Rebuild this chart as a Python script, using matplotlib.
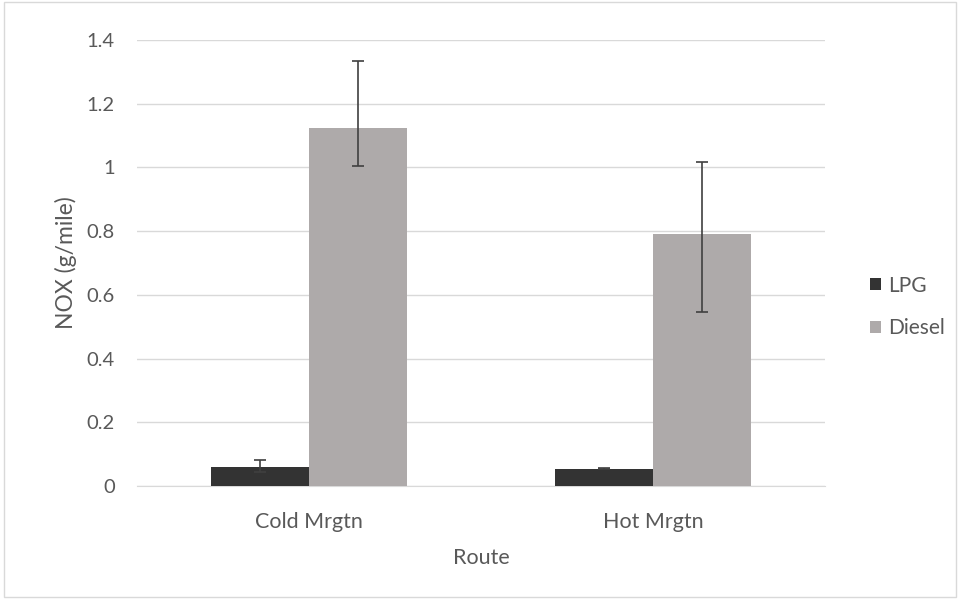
import numpy as np
import matplotlib.pyplot as plt
from matplotlib.patches import Rectangle

routes = ['Cold Mrgtn', 'Hot Mrgtn']
lpg = [0.060, 0.054]
lpg_err_lo = [0.016, 0.002]
lpg_err_hi = [0.022, 0.003]
diesel = [1.124, 0.790]
diesel_err_lo = [0.120, 0.243]
diesel_err_hi = [0.210, 0.227]
yticks = [0, 0.2, 0.4, 0.6, 0.8, 1.0, 1.2, 1.4]
ytick_labels = ['0', '0.2', '0.4', '0.6', '0.8', '1', '1.2', '1.4']

plt.rcParams['font.family'] = ['Lato', 'DejaVu Sans']
txt = '#595959'

fig = plt.figure(figsize=(9.6, 5.99), dpi=100)
ax = fig.add_axes([137 / 960, 113 / 599, 688 / 960, 446 / 599])

x = np.arange(len(routes))
w = 0.285
ax.bar(x - w / 2, lpg, w, color='#333333', label='LPG', zorder=3,
       yerr=[lpg_err_lo, lpg_err_hi], error_kw=dict(ecolor='#404040', lw=1.2, capsize=4, capthick=1.2))
ax.bar(x + w / 2, diesel, w, color='#aeaaaa', label='Diesel', zorder=3,
       yerr=[diesel_err_lo, diesel_err_hi], error_kw=dict(ecolor='#404040', lw=1.2, capsize=4, capthick=1.2))

ax.set_xlim(-0.5, 1.5)
ax.set_ylim(0, 1.4)
ax.set_yticks(yticks)
ax.set_yticklabels(ytick_labels)
ax.set_xticks(x)
ax.set_xticklabels(routes)
ax.yaxis.grid(True, color='#d9d9d9', lw=1, zorder=0)
for s in ['top', 'right', 'left']:
    ax.spines[s].set_visible(False)
ax.spines['bottom'].set_color('#d9d9d9')
ax.tick_params(axis='both', length=0, colors=txt)
ax.tick_params(axis='y', pad=16, labelsize=14.5)
ax.tick_params(axis='x', pad=19, labelsize=15.5)
ax.set_ylabel('NOX (g/mile)', fontsize=16.5, color=txt, labelpad=7)
ax.set_xlabel('Route', fontsize=15.5, color=txt, labelpad=11)

ax.legend(loc='center left', bbox_to_anchor=(862 / 960, (599 - 307) / 599),
          bbox_transform=fig.transFigure, frameon=False, borderaxespad=0,
          fontsize=15, labelcolor=txt, handlelength=0.5, handleheight=0.5,
          handletextpad=0.35, labelspacing=1.1)

fig.patches.append(Rectangle((0.004, 0.004), 0.992, 0.992, transform=fig.transFigure,
                             fill=False, edgecolor='#d9d9d9', lw=1))

fig.savefig('out.png', dpi=100)
